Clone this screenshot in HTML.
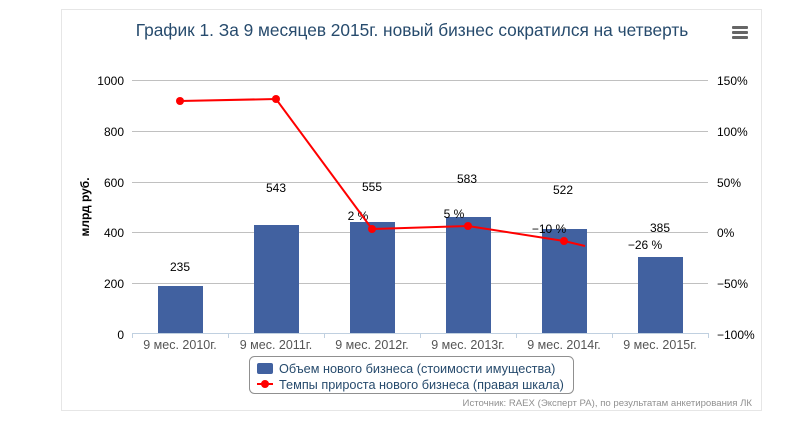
<!DOCTYPE html>
<html><head><meta charset="utf-8"><style>
body{margin:0;background:#fff;}
svg text{font-family:"Liberation Sans","DejaVu Sans",sans-serif;}
</style></head><body>
<svg width="804" height="425" xmlns="http://www.w3.org/2000/svg">
<rect x="61.5" y="9.5" width="700" height="401" fill="#fff" stroke="#e6e6e6"/>
<text x="412" y="36" text-anchor="middle" font-size="17.3" fill="#274b6d">График 1. За 9 месяцев 2015г. новый бизнес сократился на четверть</text>
<g fill="#666"><rect x="732" y="26" width="16" height="3" rx="1"/><rect x="732" y="31" width="16" height="3" rx="1"/><rect x="732" y="36" width="16" height="3" rx="1"/></g>
<g stroke="#c0c0c0" stroke-width="1">
<line x1="132" y1="80.5" x2="708" y2="80.5"/><line x1="132" y1="131.5" x2="708" y2="131.5"/>
<line x1="132" y1="182.5" x2="708" y2="182.5"/><line x1="132" y1="232.5" x2="708" y2="232.5"/>
<line x1="132" y1="283.5" x2="708" y2="283.5"/>
</g>
<g fill="#4161a0">
<rect x="158" y="286" width="45" height="47"/>
<rect x="254" y="225" width="45" height="108"/>
<rect x="350" y="222" width="45" height="111"/>
<rect x="446" y="217" width="45" height="116"/>
<rect x="542" y="229" width="45" height="104"/>
<rect x="638" y="257" width="45" height="76"/>
</g>
<line x1="132" y1="333.5" x2="708" y2="333.5" stroke="#c0d0e0"/>
<g stroke="#c0d0e0"><line x1="132.5" y1="333" x2="132.5" y2="338"/><line x1="228.5" y1="333" x2="228.5" y2="338"/><line x1="324.5" y1="333" x2="324.5" y2="338"/><line x1="420.5" y1="333" x2="420.5" y2="338"/><line x1="516.5" y1="333" x2="516.5" y2="338"/><line x1="612.5" y1="333" x2="612.5" y2="338"/><line x1="708.5" y1="333" x2="708.5" y2="338"/></g>
<g font-size="12" fill="#000" text-anchor="end">
<text x="124" y="85">1000</text><text x="124" y="136">800</text><text x="124" y="187">600</text><text x="124" y="237">400</text><text x="124" y="288">200</text><text x="124" y="339">0</text>
</g>
<g font-size="12" fill="#000" text-anchor="start">
<text x="717" y="85">150%</text><text x="717" y="136">100%</text><text x="717" y="187">50%</text><text x="717" y="237">0%</text><text x="717" y="288">−50%</text><text x="717" y="339">−100%</text>
</g>
<text transform="translate(89,207) rotate(-90)" text-anchor="middle" font-size="12" font-weight="bold" fill="#000">млрд руб.</text>
<g font-size="12.5" fill="#555" text-anchor="middle">
<text x="180" y="349">9 мес. 2010г.</text><text x="276" y="349">9 мес. 2011г.</text><text x="372" y="349">9 мес. 2012г.</text><text x="468" y="349">9 мес. 2013г.</text><text x="564" y="349">9 мес. 2014г.</text><text x="660" y="349">9 мес. 2015г.</text>
</g>
<g font-size="12" fill="#000" text-anchor="middle">
<text x="180" y="271">235</text><text x="276" y="192">543</text><text x="372" y="191">555</text><text x="467" y="183">583</text><text x="563" y="194">522</text><text x="660" y="232">385</text>
<text x="358" y="220">2 %</text><text x="454" y="218">5 %</text><text x="549" y="233">−10 %</text><text x="645" y="249">−26 %</text>
</g>
<polyline points="180,101 276,99 372,229 468,226 564,241 585,246" fill="none" stroke="#f00" stroke-width="2"/>
<g fill="#f00"><circle cx="180" cy="101" r="4"/><circle cx="276" cy="99" r="4"/><circle cx="372" cy="229" r="4"/><circle cx="468" cy="226" r="4"/><circle cx="564" cy="241" r="4"/></g>
<rect x="249.5" y="356.5" width="324" height="37" rx="5" fill="#fff" stroke="#909090"/>
<rect x="257" y="363" width="16" height="11" rx="2" fill="#4161a0"/>
<line x1="257" y1="384" x2="273" y2="384" stroke="#f00" stroke-width="2"/><circle cx="265" cy="384" r="4" fill="#f00"/>
<g font-size="12.7" fill="#274b6d"><text x="279" y="373">Объем нового бизнеса (стоимости имущества)</text><text x="279" y="389">Темпы прироста нового бизнеса (правая шкала)</text></g>
<text x="752" y="406" text-anchor="end" font-size="9.6" fill="#909090">Источник: RAEX (Эксперт РА), по результатам анкетирования ЛК</text>
</svg>
</body></html>
